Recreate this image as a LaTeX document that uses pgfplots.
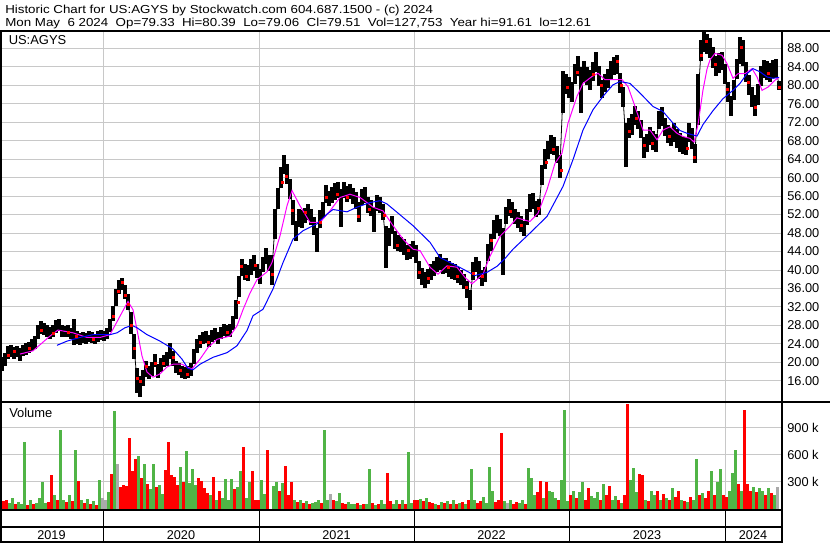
\documentclass[border=0pt]{standalone}
\usepackage{fontspec}
\setmainfont{Liberation Sans}
\newfontfamily\titlefont[FakeStretch=1.15]{Liberation Sans}
\usepackage{pgfplots}
\pgfplotsset{compat=1.18}

\definecolor{gridgray}{RGB}{200,200,200}
\definecolor{volred}{RGB}{255,0,0}
\definecolor{volgreen}{RGB}{80,180,70}
\definecolor{volgray}{RGB}{170,170,170}
\definecolor{mamag}{RGB}{255,0,255}
\definecolor{mablue}{RGB}{0,0,255}

% one pixel of the 830x543 reference = 0.75pt
\pgfplotsset{panel/.style={
    scale only axis, width=584.25pt,
    xmin=2, xmax=781,
    axis line style={draw=none},
    major tick length=0pt,
    xtick={103,259,414,569,725}, xticklabels={},
    xmajorgrids, ymajorgrids,
    grid style={gridgray, line width=0.75pt},
    yticklabel pos=right,
    yticklabel style={anchor=west, inner sep=0pt, xshift=4.5pt,
      font=\fontsize{9.6}{11}\selectfont},
    /pgf/number format/assume math mode=true,
}}

\begin{document}
\begin{tikzpicture}
\useasboundingbox (0,0) rectangle (622.5pt,407.25pt);

% ---------------- price panel ----------------
\begin{axis}[panel, at={(1.5pt,106.125pt)}, anchor=south west, height=277.5pt,
  ymin=11.53, ymax=91.64, ytick={16,20,...,88},
  /pgf/number format/fixed, /pgf/number format/fixed zerofill,
  /pgf/number format/precision=2]
\addplot[black, line width=0.6pt, mark=none,
  error bars/.cd, y dir=both, y explicit, error mark=none,
  error bar style={line width=2.3pt}]
  table[x=x, y=m, y error expr=\thisrow{e}+0.7] {
x m e
2 19.6 0.8
5 20.6 0.7
8 22.2 0.7
11 22.5 0.6
14 22.0 0.6
17 22.4 0.5
20 21.7 0.7
23 22.6 0.5
26 23.0 0.6
29 23.3 0.5
32 23.8 0.6
35 24.3 0.7
38 26.6 0.9
41 27.6 0.7
44 27.2 0.6
47 26.8 0.6
50 26.4 0.6
53 26.9 0.6
56 27.8 0.7
59 28.0 0.6
62 26.9 0.6
65 26.7 0.5
68 26.8 0.6
71 26.3 0.5
74 26.6 2.2
77 25.3 0.7
80 25.0 0.6
83 25.4 0.5
86 25.2 0.5
89 25.6 0.5
92 25.3 0.5
95 25.1 0.4
98 25.6 0.4
101 25.9 0.4
104 25.8 0.4
107 26.2 0.5
110 28.0 0.8
113 30.6 0.9
116 34.0 1.1
119 36.3 0.8
122 36.9 0.6
125 35.2 0.8
128 33.0 1.0
131 28.5 1.6
134 23.5 2.0
137 16.0 2.0
140 14.8 1.6
143 16.6 1.0
146 18.6 1.0
149 17.8 0.8
152 18.5 0.8
155 20.4 0.8
158 18.2 0.8
161 19.4 0.8
164 20.3 0.7
167 20.8 0.8
170 22.5 1.0
173 20.8 0.9
176 19.0 0.7
179 18.5 0.6
182 18.0 0.6
185 17.6 0.6
188 17.9 0.6
191 18.4 0.7
194 21.2 0.9
197 23.5 0.8
200 24.6 0.7
203 25.2 0.6
206 25.5 0.6
209 24.7 0.6
212 25.8 0.6
215 26.1 0.6
218 25.2 0.6
221 26.4 0.6
224 27.0 0.6
227 26.8 0.6
230 27.0 0.7
233 28.6 0.8
236 31.5 1.3
239 36.5 1.6
242 40.5 1.2
245 39.6 1.0
248 39.3 1.0
251 40.6 1.0
254 41.5 1.0
257 39.8 0.9
260 38.6 1.0
263 41.2 1.0
266 43.0 1.0
269 41.5 1.0
272 40.0 2.6
275 50.0 2.5
278 55.5 1.6
281 60.0 1.5
284 62.8 1.3
287 60.8 1.4
290 57.5 1.5
293 52.5 2.0
296 48.5 1.5
299 51.2 1.2
302 51.0 1.2
305 51.8 1.0
308 52.6 1.0
311 51.5 1.0
314 49.5 1.2
317 46.5 2.0
320 51.0 1.2
323 53.0 1.0
326 56.5 1.2
329 55.5 1.0
332 56.2 1.0
335 57.0 1.2
338 57.3 1.0
341 53.5 3.4
344 57.3 1.0
347 56.4 1.0
350 57.0 1.0
353 56.0 1.0
356 55.0 1.2
359 52.5 1.5
362 55.8 1.0
365 56.2 1.0
368 54.0 1.0
371 53.5 1.0
374 51.0 2.0
377 54.5 1.0
380 54.0 1.0
383 52.6 1.0
386 45.0 3.8
389 47.2 1.2
392 49.8 1.2
395 46.5 1.2
398 45.8 1.0
401 45.5 1.0
404 45.0 1.0
407 43.8 1.0
410 44.0 1.0
413 44.6 1.0
416 43.5 1.3
419 40.0 1.3
422 38.6 1.2
425 37.8 1.0
428 38.6 1.0
431 39.5 1.0
434 40.3 1.0
437 41.2 1.0
440 41.7 1.0
443 40.8 1.0
446 41.0 1.0
449 40.2 1.0
452 39.8 1.0
455 39.6 1.0
458 38.9 1.0
461 38.4 1.0
464 37.5 1.0
467 35.8 1.2
470 33.5 1.4
473 39.8 1.3
476 41.2 1.0
479 40.0 1.2
482 38.2 1.0
485 39.0 1.0
488 43.8 1.2
491 46.0 1.2
494 48.8 1.3
497 50.0 1.2
500 49.2 1.2
503 44.0 4.3
506 51.8 1.2
509 53.5 1.2
512 53.0 1.0
515 51.6 1.0
518 50.8 1.0
521 50.0 1.0
524 49.0 1.0
527 51.5 1.0
530 54.5 1.2
533 55.0 1.0
536 53.2 1.0
539 53.6 1.0
542 60.5 1.5
545 64.0 1.5
548 66.0 1.3
551 67.2 1.3
554 66.8 1.2
557 65.0 1.2
560 62.5 1.8
563 78.5 3.8
566 80.3 1.5
569 79.5 1.5
572 78.5 1.5
575 82.5 1.5
578 84.2 1.5
581 79.0 4.3
584 83.0 1.5
587 82.0 1.3
590 81.2 1.5
593 83.0 1.3
596 85.0 1.5
599 82.0 1.5
602 79.2 1.3
605 80.5 1.3
608 81.5 1.3
611 83.2 1.3
614 84.2 1.3
617 84.5 1.3
620 80.5 1.5
623 77.5 1.5
626 67.0 4.1
629 70.8 1.5
632 71.5 1.5
635 73.5 1.3
638 72.5 1.3
641 70.5 1.3
644 66.5 1.5
647 67.5 1.3
650 69.0 1.3
653 68.0 1.3
656 67.5 1.3
659 72.5 1.3
662 73.2 1.3
665 71.0 1.3
668 69.5 1.3
671 68.8 1.3
674 69.8 1.3
677 68.5 1.3
680 67.6 1.3
683 67.0 1.2
686 66.8 1.2
689 69.8 1.3
692 68.5 1.5
695 65.2 1.3
698 77.0 4.8
701 87.5 1.5
704 89.3 1.5
707 89.0 1.5
710 88.0 1.5
713 86.0 1.5
716 84.2 1.5
719 84.8 1.5
722 85.2 1.3
725 82.5 1.5
728 78.5 1.5
731 75.5 1.5
734 79.0 1.5
737 83.5 1.5
740 87.5 2.2
743 87.0 2.2
746 82.8 1.5
749 80.0 1.5
752 77.5 1.5
755 75.6 1.5
758 78.0 1.5
761 82.0 1.5
764 83.5 1.3
767 83.2 1.3
770 82.8 1.3
773 83.5 1.3
776 83.6 1.3
779 80.0 0.3
};
% closes marked in red
\addplot[only marks, mark=square*, mark size=0.75pt, volred] coordinates {
(8,21.6)(14,22.3)(29,23.0)(41,27.0)(53,26.4)(68,26.6)
(76,25.6)(93,25.0)(113,30.0)(118,35.5)(122,37.3)(125,34.6)(128,32.5)
(131,28.0)(134,23.0)(137,16.5)(140,16.0)(146,19.2)(155,19.8)(163,19.8)
(173,21.2)(180,18.3)(187,17.5)(200,24.4)(208,24.4)(227,26.6)
(238,33.0)(241,40.8)(246,38.6)(255,41.0)(272,39.0)(282,59.0)
(286,60.2)(292,53.0)(305,52.5)(320,50.4)(326,55.7)(337,56.5)
(347,55.8)(358,51.6)(369,53.1)(384,51.8)(397,45.4)(408,44.2)
(419,39.6)(428,38.2)(448,40.5)(457,38.6)(466,36.2)(473,39.4)
(482,38.6)(491,46.5)(510,52.8)(521,49.6)(538,53.4)
(546,63.4)(553,66.2)(561,61.6)(567,79.6)(577,82.8)(593,82.4)
(601,80.0)(617,85.2)(621,80.1)(629,70.0)(636,72.8)(644,67.1)
(652,67.5)(669,69.0)(687,66.3)(694,64.4)(701,86.6)
(706,89.5)(715,84.6)(727,79.2)(741,88.2)(748,80.6)
(755,75.2)(768,82.6)(779,79.5)
};
% short moving average
\addplot[mamag, line width=0.75pt, mark=none] coordinates {
(20,21.8)(33,22.5)(50,25.7)(58,27.0)(73,26.4)(87,25.4)(100,25.4)(110,26.0)
(120,30.0)(128,33.2)(133,31.4)(137,27.1)(142,21.4)(147,17.9)(153,16.8)
(160,17.5)(167,19.0)(173,19.6)(182,19.6)(187,19.0)(192,18.6)(200,20.7)
(208,23.2)(217,25.0)(230,25.7)(237,27.9)(243,31.4)(250,35.0)(257,37.9)
(267,39.6)(272,41.6)(280,47.4)(287,53.9)(292,57.2)(300,53.9)(310,50.3)
(320,50.3)(330,52.8)(340,55.7)(350,56.4)(360,55.7)(367,54.6)(373,53.6)
(383,52.8)(393,49.6)(403,46.7)(413,44.5)(420,44.2)(430,40.6)(438,39.1)
(447,40.9)(457,40.6)(465,38.4)(472,37.0)(483,39.1)(490,43.0)(500,47.3)
(510,49.5)(517,51.3)(523,50.9)(530,50.5)(538,52.3)(547,57.4)(555,63.1)
(562,65.3)(568,71.8)(577,77.6)(583,80.4)(592,81.9)(598,82.6)(605,81.2)
(613,81.2)(622,81.2)(628,79.7)(635,75.4)(643,70.3)(650,70.3)(657,68.2)
(663,70.3)(670,71.0)(677,69.6)(683,68.9)(690,68.5)(694,67.7)(698,71.5)
(703,79.0)(707,83.5)(710,85.5)(715,86.9)(722,86.5)(727,84.7)(733,81.5)
(738,82.5)(745,82.5)(752,83.6)(757,81.8)(762,78.9)(768,79.6)(775,81.1)
(779,81.7)
};
% long moving average
\addplot[mablue, line width=0.75pt, mark=none] coordinates {
(57,23.7)(67,24.6)(80,25.4)(93,26.0)(110,26.0)(117,26.4)(125,27.5)(132,28.0)
(137,27.5)(147,26.0)(160,24.6)(173,22.9)(182,20.7)(188,18.7)(193,18.4)
(200,19.6)(213,21.1)(227,22.1)(237,23.6)(247,26.9)(253,30.1)(263,31.5)
(273,35.9)(283,41.6)(293,46.7)(303,48.5)(317,50.0)(327,52.1)(333,53.1)
(347,52.6)(357,53.6)(370,54.6)(380,55.0)(387,54.3)(397,52.5)(413,49.6)
(430,46.0)(440,42.7)(453,41.3)(463,40.2)(475,38.8)(487,39.5)(497,40.8)
(505,42.5)(513,44.5)(530,48.0)(547,51.6)(563,58.1)(573,63.9)(583,70.3)
(593,74.7)(603,77.6)(613,80.1)(620,80.8)(630,80.4)(640,78.3)(653,75.4)
(663,74.3)(673,71.8)(680,70.2)(687,69.6)(697,69.0)(703,71.5)(713,74.5)
(723,77.1)(733,78.9)(740,80.4)(747,82.5)(753,83.6)(760,82.9)(767,81.8)
(773,81.5)(779,81.7)
};
\end{axis}

% ---------------- volume panel (thousands) ----------------
\begin{axis}[panel, at={(1.5pt,25.875pt)}, anchor=south west, height=80.25pt,
  ymin=0, ymax=1189, ytick={300,600,900},
  yticklabels={300 k,600 k,900 k}]
\addplot[ycomb, volred, line width=2.25pt, mark=none] coordinates {
(3,80)(6,100)(15,45)(27,40)(33,50)(48,75)(51,370)(57,90)(66,70)(72,80)
(78,310)(84,60)(90,50)(96,40)
(111,380)(120,240)(123,265)(126,250)(129,785)(132,420)(135,555)(141,335)
(147,277)(156,240)(165,430)(168,740)(171,373)(174,354)(177,260)(183,296)
(198,335)(201,310)(204,230)(207,170)(213,346)(219,192)(234,220)(243,681)
(252,420)(255,100)(258,100)(267,650)
(279,200)(285,470)(288,150)(291,300)(297,70)(303,60)(309,50)(321,60)(333,90)
(342,60)(345,50)(357,60)(363,50)(372,60)(378,50)(387,400)(390,80)(399,55)
(405,50)(414,100)
(417,90)(423,80)(429,70)(432,60)(438,40)(444,60)(450,55)(456,45)(462,70)
(468,90)(477,60)(480,80)(495,70)(498,100)(501,842)(513,50)(516,70)(525,50)
(537,180)(540,310)(546,300)(558,90)(570,150)(576,120)(585,100)(588,230)
(600,100)(606,150)(609,250)(618,100)(624,150)(627,1160)(639,380)(642,370)
(648,80)(657,190)(663,160)(669,100)(675,130)(678,200)(684,80)(690,130)
(699,150)(705,120)(708,200)(714,150)(723,150)(726,130)(738,270)(744,1093)
(747,270)(750,200)(756,180)(765,150)(771,170)
};
\addplot[ycomb, volgreen, line width=2.25pt, mark=none] coordinates {
(9,60)(12,115)(18,75)(21,55)(24,742)(30,90)(36,65)(39,120)(42,290)(45,60)
(54,150)(60,871)(63,100)(69,150)(75,649)(81,90)(87,110)(93,80)(99,320)
(108,180)(114,1085)(138,578)(144,500)(150,220)(153,497)(159,258)(162,162)
(180,462)(186,635)(189,280)(192,443)(195,260)(210,150)(216,100)(222,120)
(225,327)(228,100)(231,327)(237,240)(240,420)(246,120)(249,300)(261,316)
(264,160)
(273,250)(276,300)(282,280)(294,100)(300,90)
(306,80)(312,60)(315,70)(318,90)(324,871)(327,100)(336,80)(339,170)(348,70)
(351,45)(354,50)(360,40)(366,55)(369,438)(375,40)(381,90)(384,45)(393,50)
(396,90)(402,100)(408,631)(411,60)
(420,110)(426,120)(435,50)(441,70)(447,80)(453,90)(459,60)(465,50)(471,438)
(474,100)(483,130)(486,60)(489,460)(492,200)(504,80)(510,90)(519,60)(522,100)
(528,450)(531,340)(534,150)(543,120)(549,200)(552,180)(555,120)(561,320)
(564,1093)(567,80)(573,200)(579,180)(582,300)(591,140)(594,120)(597,180)
(603,270)(612,100)(615,140)(621,60)(630,320)(633,446)(636,180)(645,100)
(651,200)(654,150)(660,90)(666,120)(672,230)(681,90)(687,70)(693,100)
(696,549)(702,170)(711,420)(717,300)(720,438)(729,200)(732,390)(735,649)
(741,200)(753,240)(759,230)(762,200)(768,230)(774,150)
};
\addplot[ycomb, volgray, line width=2.25pt, mark=none] coordinates {
(102,120)(105,100)(117,500)(330,160)(507,60)(777,240)
};
\end{axis}

% ---------------- frame and texts, in reference pixels ----------------
\begin{scope}[x=0.75pt, y=0.75pt]
\draw[line width=1.5pt] (0,512) -- (830,512);
\draw[line width=1.5pt] (0,141.5) -- (830,141.5);
\draw[line width=1.5pt] (0,33.5) -- (782,33.5);
\draw[line width=1.5pt] (0,16.5) -- (782,16.5);
\draw[line width=1.5pt] (0,1) -- (782,1);
\draw[line width=1.5pt] (1,0) -- (1,512);
\draw[line width=1.5pt] (782,0) -- (782,512);
\foreach \xx in {103,259,414,569,725}
  \draw[line width=0.75pt] (\xx,1) -- (\xx,33.5);

\node[anchor=base west, inner sep=0pt, font=\titlefont\fontsize{8.7}{10}\selectfont]
  at (5,529) {Historic Chart for US:AGYS by Stockwatch.com 604.687.1500 - (c) 2024};
\node[anchor=base west, inner sep=0pt, font=\titlefont\fontsize{8.7}{10}\selectfont]
  at (5,516.3) {Mon May~ 6 2024~ Op=79.33~ Hi=80.39~ Lo=79.06~ Cl=79.51~ Vol=127,753~ Year hi=91.61~ lo=12.61};

\node[anchor=base west, inner sep=0pt, font=\fontsize{9.7}{11}\selectfont]
  at (8.5,498) {US:AGYS};
\node[anchor=base west, inner sep=0pt, font=\fontsize{9.7}{11}\selectfont]
  at (9,125.3) {Volume};

\foreach \cx/\yr in {51.5/2019,181/2020,336.5/2021,491.5/2022,647/2023,753/2024}
  \node[anchor=base, inner sep=0pt, font=\fontsize{9.5}{11}\selectfont]
    at (\cx,3.7) {\yr};
\end{scope}
\end{tikzpicture}
\end{document}
